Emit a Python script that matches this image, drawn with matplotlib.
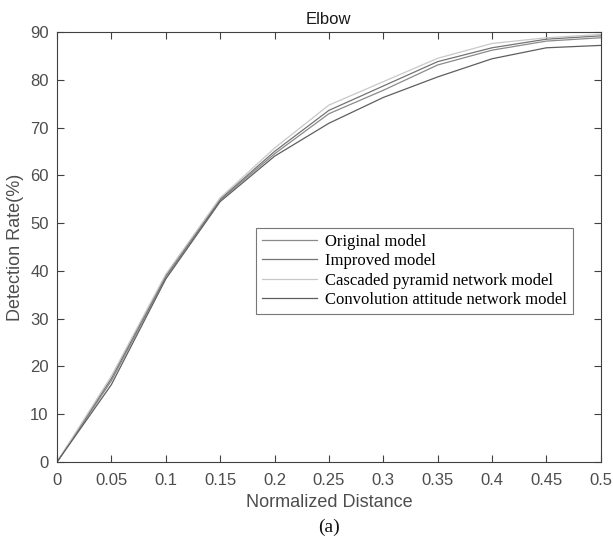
import matplotlib
matplotlib.use("Agg")
import matplotlib.pyplot as plt

# data (Elbow, detection rate vs normalized distance)
distance = [0, 0.05, 0.1, 0.15, 0.2, 0.25, 0.3, 0.35, 0.4, 0.45, 0.5]
original = [0, 17.0, 38.7, 54.8, 64.5, 72.9, 77.8, 83.1, 86.2, 88.1, 88.8]
improved = [0, 17.5, 39.0, 55.0, 65.0, 73.6, 78.7, 83.8, 86.7, 88.5, 89.2]
cascaded = [0, 18.0, 39.3, 55.3, 65.7, 74.7, 79.6, 84.5, 87.6, 88.8, 89.5]
convolution = [0, 16.2, 38.3, 54.5, 64.0, 70.9, 76.3, 80.6, 84.4, 86.7, 87.2]

labels = ["Original model", "Improved model",
          "Cascaded pyramid network model", "Convolution attitude network model"]
xtick_labels = ["0", "0.05", "0.1", "0.15", "0.2", "0.25", "0.3", "0.35",
                "0.4", "0.45", "0.5"]

plt.rcParams["font.family"] = ["Liberation Sans", "DejaVu Sans"]
txt = "#4d4d4d"

fig = plt.figure(figsize=(6.13, 5.40), dpi=100)
ax = fig.add_axes([0.093, 0.1444, 0.887, 0.7963])

series = [original, improved, cascaded, convolution]
colors = ["#8a8a8a", "#737373", "#c8c8c8", "#5e5e5e"]
for ys, c, lab in zip(series, colors, labels):
    ax.plot(distance, ys, color=c, lw=0.9, label=lab)

ax.set_xlim(0, 0.5)
ax.set_ylim(0, 90)
ax.set_xticks(distance)
ax.set_xticklabels(xtick_labels)
ax.set_yticks(range(0, 91, 10))
ax.tick_params(direction="in", top=True, right=True, length=5, width=0.8,
               colors="#404040", labelcolor=txt, labelsize=12, pad=6)
ax.tick_params(axis="x", pad=8)
for s in ax.spines.values():
    s.set_color("#404040")
    s.set_linewidth(0.8)

ax.set_xlabel("Normalized Distance", fontsize=13, color=txt, labelpad=4)
ax.set_ylabel("Detection Rate(%)", fontsize=13, color=txt, labelpad=4)
ax.set_title("Elbow", fontsize=12, color="#1a1a1a", pad=6)

leg = ax.legend(loc="upper left", bbox_to_anchor=(0.366, 0.544),
                prop={"family": "Liberation Serif", "size": 12},
                frameon=True, fancybox=False, edgecolor="#555555",
                handlelength=3.3, handletextpad=0.5, labelspacing=0.2,
                borderpad=0.35, borderaxespad=0)
leg.get_frame().set_linewidth(0.8)

fig.text(0.5 * (0.093 + 0.98), 0.008, "(a)", ha="center", va="bottom",
         fontsize=14, family="Liberation Serif", color="#111111")

fig.savefig("out.png", dpi=100)
